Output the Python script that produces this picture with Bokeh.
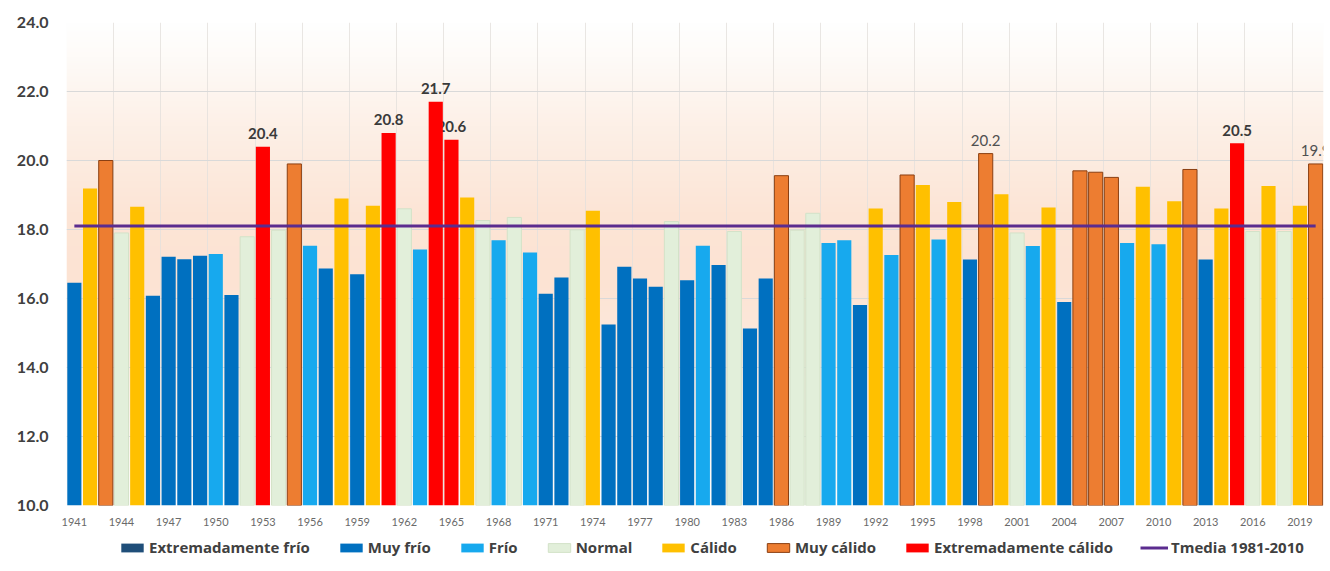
import numpy as np
from bokeh.plotting import figure
from bokeh.layouts import column
from bokeh.models import (ColumnDataSource, Range1d, FixedTicker,
                          NumeralTickFormatter, Legend, LegendItem)
from bokeh.core.properties import value
from bokeh.embed import file_html
from bokeh.resources import INLINE

# ---------------- data ----------------
years = list(range(1941, 2021))
temps = [16.46, 19.19, 20.00, 17.90, 18.66, 16.08, 17.21, 17.14, 17.24, 17.29,
         16.10, 17.79, 20.40, 17.98, 19.90, 17.53, 16.87, 18.90, 16.70, 18.69,
         20.80, 18.60, 17.42, 21.70, 20.60, 18.93, 18.26, 17.69, 18.35, 17.33,
         16.14, 16.61, 17.99, 18.54, 15.25, 16.92, 16.58, 16.34, 18.23, 16.53,
         17.53, 16.97, 17.94, 15.13, 16.58, 19.56, 17.98, 18.47, 17.61, 17.69,
         15.81, 18.61, 17.26, 19.58, 19.29, 17.71, 18.80, 17.13, 20.20, 19.02,
         17.90, 17.52, 18.64, 15.90, 19.70, 19.66, 19.51, 17.61, 19.24, 17.57,
         18.82, 19.74, 17.13, 18.61, 20.50, 17.94, 19.26, 17.94, 18.69, 19.90]
cats = ["MF", "C", "MC", "N", "C", "MF", "MF", "MF", "MF", "F",
        "MF", "N", "EC", "N", "MC", "F", "MF", "C", "MF", "C",
        "EC", "N", "F", "EC", "EC", "C", "N", "F", "N", "F",
        "MF", "MF", "N", "C", "MF", "MF", "MF", "MF", "N", "MF",
        "F", "MF", "N", "MF", "MF", "MC", "N", "N", "F", "F",
        "MF", "C", "F", "MC", "C", "F", "C", "MF", "MC", "C",
        "N", "F", "C", "MF", "MC", "MC", "MC", "F", "C", "F",
        "C", "MC", "MF", "C", "EC", "N", "C", "N", "C", "MC"]
category_codes = ["EF", "MF", "F", "N", "C", "MC", "EC"]
category_names = ["Extremadamente frío", "Muy frío", "Frío", "Normal",
                  "Cálido", "Muy cálido", "Extremadamente cálido"]
category_colors = ["#1F4E79", "#0070C0", "#17A9EE", "#E2EFDA",
                   "#FFC000", "#ED7D31", "#FF0000"]
category_lines = [None, None, None, "#D3E2C8", None, "#8A3F12", None]
tick_years = list(range(1941, 2020, 3))
y_ticks = [10, 12, 14, 16, 18, 20, 22, 24]
tmedia = 18.1
tmedia_label = "Tmedia 1981-2010"
bold_label_years = [1953, 1961, 1964, 1965, 2015]
plain_label_years = [1999, 2020]

FONT = "Lato"
LEG_FONT = "Open Sans"
LINE_COLOR = "#5B2C8F"
xlo, xhi = years[0] - 0.5, years[-1] + 0.5
ylo, yhi = y_ticks[0], y_ticks[-1]

p = figure(frame_width=1257, frame_height=483,
           x_range=Range1d(xlo, xhi), y_range=Range1d(ylo, yhi),
           output_backend="svg", toolbar_location=None,
           min_border_left=66, min_border_right=7, min_border_top=22,
           min_border_bottom=30)
p.outline_line_color = None
p.background_fill_color = "white"
p.border_fill_color = "white"

# background gradient (decoration)
ny = 483
ys = np.linspace(ylo, yhi, ny)
stop_v = [10, 11.5, 14, 16.5, 18.5, 21, 23, 24]
stop_rgb = [(255, 253, 251), (254, 247, 242), (253, 236, 225), (252, 227, 211),
            (252, 229, 214), (253, 240, 231), (254, 251, 248), (255, 255, 255)]
img = np.empty((ny, 1), dtype=np.uint32)
view = img.view(dtype=np.uint8).reshape((ny, 1, 4))
for i, ch in enumerate(zip(*stop_rgb)):
    view[:, 0, i] = np.interp(ys, stop_v, ch).astype(np.uint8)
view[:, 0, 3] = 255
p.image_rgba(image=[img], x=xlo, y=ylo, dw=xhi - xlo, dh=yhi - ylo, level="image")

# grids
p.ygrid.ticker = FixedTicker(ticks=y_ticks)
p.ygrid.grid_line_color = "#D9D9D9"
p.ygrid.grid_line_width = 1
p.xgrid.ticker = FixedTicker(ticks=[t - 0.5 for t in tick_years] + [xhi])
p.xgrid.grid_line_color = "#E4E0DC"
p.xgrid.grid_line_alpha = 0.8

# value labels (drawn before bars so bars can overlap them, as in the original)
def lab_src(sel):
    return ColumnDataSource(dict(
        x=[y for y in sel],
        y=[temps[years.index(y)] for y in sel],
        t=["%.1f" % temps[years.index(y)] for y in sel]))

p.text(x="x", y="y", text="t", source=lab_src(bold_label_years),
       text_font=value(FONT), text_font_style="bold", text_font_size="15px",
       text_color="#3A3A3A", text_align="center", text_baseline="alphabetic",
       y_offset=-13)
p.text(x="x", y="y", text="t", source=lab_src(plain_label_years),
       text_font=value(FONT), text_font_size="15px",
       text_color="#505050", text_align="center", text_baseline="alphabetic",
       y_offset=-13)

# bars
for code, col, lc in zip(category_codes, category_colors, category_lines):
    idx = [i for i, c in enumerate(cats) if c == code]
    src = ColumnDataSource(dict(x=[years[i] for i in idx], top=[temps[i] for i in idx]))
    p.vbar(x="x", top="top", bottom=ylo, width=0.9, source=src,
           fill_color=col, line_color=lc, line_width=1)

# mean line
p.line(x=[years[0], years[-1]], y=[tmedia, tmedia], line_color=LINE_COLOR, line_width=3)

# axes
p.yaxis.ticker = FixedTicker(ticks=y_ticks)
p.yaxis.formatter = NumeralTickFormatter(format="0.0")
p.yaxis.major_label_text_font = FONT
p.yaxis.major_label_text_font_style = "bold"
p.yaxis.major_label_text_font_size = "16px"
p.yaxis.major_label_text_color = "#404040"
p.yaxis.major_label_standoff = 18
p.xaxis.ticker = FixedTicker(ticks=tick_years)
p.xaxis.major_label_text_font = FONT
p.xaxis.major_label_text_font_size = "11px"
p.xaxis.major_label_text_color = "#6A6A6A"
p.xaxis.major_label_standoff = 12
for ax in (p.xaxis, p.yaxis):
    ax.axis_line_color = None
    ax.major_tick_line_color = None
    ax.minor_tick_line_color = None
    ax.major_tick_out = 0
    ax.major_tick_in = 0
    ax.minor_tick_out = 0
    ax.minor_tick_in = 0

# ---------------- legend strip ----------------
# legend proxies: one NaN row each, so nothing is drawn but the swatch
nan = float("nan")
lf = figure(width=1330, height=36, x_range=Range1d(0, 1), y_range=Range1d(0, 1),
            output_backend="svg", toolbar_location=None,
            x_axis_location=None, y_axis_location=None, min_border=0)
lf.outline_line_color = None
lf.grid.visible = False
items = []
for name, col, lc in zip(category_names, category_colors, category_lines):
    r = lf.vbar(x=[nan], top=[nan], bottom=0, width=0.1,
                fill_color=col, line_color=lc, line_width=1)
    items.append(LegendItem(label=name, renderers=[r]))
lr = lf.line(x=[nan, nan], y=[nan, nan], line_color=LINE_COLOR, line_width=3)
items.append(LegendItem(label=tmedia_label, renderers=[lr]))
legend = Legend(items=items, orientation="horizontal", location=(52, 14),
                label_text_font=LEG_FONT, label_text_font_style="bold",
                label_text_font_size="15px", label_text_color="#404040",
                glyph_width=28, glyph_height=11, label_standoff=3, spacing=27,
                border_line_color=None, background_fill_alpha=0,
                padding=0, margin=0)
lf.add_layout(legend)

layout = column(p, lf, spacing=0)
open("out.html", "w").write(file_html(layout, INLINE))
